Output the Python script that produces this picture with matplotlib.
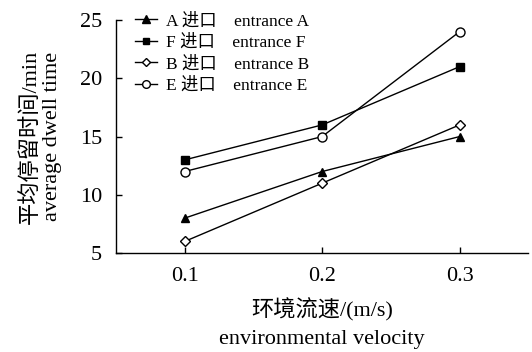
import matplotlib
matplotlib.use("Agg")
import matplotlib.pyplot as plt

plt.rcParams['font.family'] = ['Liberation Serif', 'Noto Sans CJK SC']

# data
velocity = [0.1, 0.2, 0.3]
entrance_a = [8, 12, 15]
entrance_f = [13, 16, 21]
entrance_b = [6, 11, 16]
entrance_e = [12, 15, 24]
labels = ["A 进口    entrance A", "F 进口    entrance F",
          "B 进口    entrance B", "E 进口    entrance E"]

fig = plt.figure(figsize=(5.32, 3.52), dpi=100)
ax = fig.add_axes([0.218, 0.281, 0.775, 0.662])

ax.plot(velocity, entrance_a, color='black', lw=1, marker='^', ms=6,
        mfc='black', label=labels[0])
ax.plot(velocity, entrance_f, color='black', lw=1, marker='s', ms=5.5,
        mfc='black', label=labels[1])
ax.plot(velocity, entrance_b, color='black', lw=1, marker='D', ms=5,
        mfc='white', label=labels[2])
ax.plot(velocity, entrance_e, color='black', lw=1, marker='o', ms=6.5,
        mfc='white', label=labels[3])

ax.set_xlim(0.05, 0.35)
ax.set_ylim(5, 25)
ax.set_xticks([0.1, 0.2, 0.3])
ax.set_yticks([5, 10, 15, 20, 25])
ax.tick_params(direction='in', length=4, labelsize=16, width=1, pad=10)
for s in ['top', 'right']:
    ax.spines[s].set_visible(False)
ax.spines['left'].set_linewidth(1)
ax.spines['bottom'].set_linewidth(1)

ax.set_xlabel("环境流速/(m/s)\nenvironmental velocity", fontsize=16,
              linespacing=1.55, labelpad=9)
ax.set_ylabel("平均停留时间/min\naverage dwell time", fontsize=16,
              linespacing=1.15, labelpad=13)

ax.legend(loc='upper left', bbox_to_anchor=(0.045, 1.03), frameon=False,
          fontsize=12.5, handlelength=1.3, handletextpad=0.5,
          labelspacing=0.3, borderpad=0, borderaxespad=0, markerscale=0.85)

fig.savefig("out.png", dpi=100)
